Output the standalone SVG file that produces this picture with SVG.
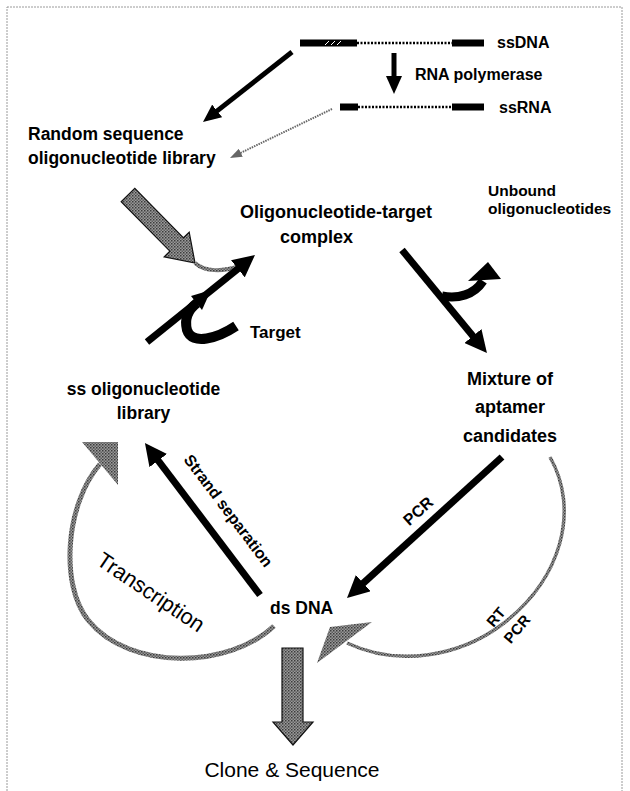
<svg xmlns="http://www.w3.org/2000/svg" width="630" height="791" viewBox="0 0 630 791">
<style>
.b{font-family:"Liberation Sans",Arial,sans-serif;font-weight:bold;fill:#000}
.r{font-family:"Liberation Sans",Arial,sans-serif;fill:#000}
.blk{stroke:#000;fill:none;stroke-linecap:butt}
.gry{stroke:url(#stip);fill:none}
</style>
<defs>
<pattern id="stip" patternUnits="userSpaceOnUse" width="3" height="3">
<rect width="3" height="3" fill="#9a9a9a"/>
<rect width="1.5" height="1.5" fill="#3c3c3c"/>
<rect x="1.5" y="1.5" width="1.5" height="1.5" fill="#5e5e5e"/>
</pattern>
<marker id="ahL" markerUnits="userSpaceOnUse" markerWidth="22" markerHeight="22" viewBox="0 0 22 22" refX="7" refY="11" orient="auto">
<path d="M0,0 L22,11 L0,22 Z" fill="#000"/>
</marker>
<marker id="ahS" markerUnits="userSpaceOnUse" markerWidth="18" markerHeight="16" viewBox="0 0 18 16" refX="6" refY="8" orient="auto">
<path d="M0,0 L18,8 L0,16 Z" fill="#000"/>
</marker>
<marker id="ahG" markerUnits="userSpaceOnUse" markerWidth="12" markerHeight="9" viewBox="0 0 12 9" refX="3" refY="4.5" orient="auto">
<path d="M0,0 L12,4.5 L0,9 Z" fill="#666"/>
</marker>
</defs>
<rect width="630" height="791" fill="#fff"/>
<rect x="7" y="7" width="615" height="800" fill="none" stroke="#9a9a9a" stroke-width="1" stroke-dasharray="2 1"/>

<g id="connectors">
<line class="blk" x1="292" y1="52" x2="212.4" y2="114.6" stroke-width="5" marker-end="url(#ahS)"/>
<line class="blk" x1="394" y1="53" x2="394" y2="82" stroke-width="5" marker-end="url(#ahS)"/>
<line x1="332" y1="109" x2="238.1" y2="154.1" stroke="#666" stroke-width="2" stroke-dasharray="1.5 1" marker-end="url(#ahG)"/>
<polygon points="121.2,201.7 134.8,188.3 183.5,237.8 189.2,232.2 195,263 164.2,256.8 169.9,251.2" fill="url(#stip)" stroke="#111" stroke-width="1.2"/>
<path class="gry" d="M195,263 C205,272 222,272 240,266" stroke-width="4"/>
<line class="blk" x1="147" y1="342" x2="243.3" y2="264.4" stroke-width="7" marker-end="url(#ahL)"/>
<path class="blk" d="M236,326 C218,338 192,346 187,330 C184,318 189,309 197,303" stroke-width="10"/>
<polygon points="202,310 191,296 211,290" fill="#000"/>
<line class="blk" x1="402" y1="250" x2="477.4" y2="341.4" stroke-width="7" marker-end="url(#ahL)"/>
<path class="blk" d="M442,296 C458,299 474,295 483,281" stroke-width="9"/>
<polygon points="468,281 501,279 488,262" fill="#000"/>
<line class="blk" x1="502" y1="457" x2="358.1" y2="587.9" stroke-width="7" marker-end="url(#ahL)"/>
<line class="blk" x1="260" y1="595" x2="154" y2="455" stroke-width="7" marker-end="url(#ahL)"/>
<path class="gry" d="M550,457 C580,510 562,580 500,626 C460,655 400,668 347,643" stroke-width="3.5"/>
<polygon points="317,663 330,627 372,622" fill="url(#stip)"/>
<path class="gry" d="M274,626 C230,668 130,672 88,620 C60,585 65,505 100,464" stroke-width="5"/>
<polygon points="82,442 118,442 118,485" fill="url(#stip)"/>
<polygon points="282,648 303,648 303,722 313,722 293,745 273,722 282,722" fill="url(#stip)" stroke="#111" stroke-width="1.2"/>
</g>

<g id="n-ssdna">
<rect x="300" y="39.5" width="57" height="7" fill="#000"/>
<path d="M325,45 l4,-4 M331,45 l4,-4 M337,45 l4,-4" stroke="#fff" stroke-width="1"/>
<line x1="357" y1="43" x2="452" y2="43" stroke="#000" stroke-width="2.5" stroke-dasharray="2 1.5"/>
<rect x="452" y="39.5" width="32" height="7" fill="#000"/>
<text class="b" x="497" y="48" font-size="16">ssDNA</text>
</g>
<g id="n-rnapol">
<text class="b" x="415" y="80" font-size="16">RNA polymerase</text>
</g>
<g id="n-ssrna">
<rect x="340" y="103.5" width="18" height="7" fill="#000"/>
<line x1="358" y1="107" x2="452" y2="107" stroke="#000" stroke-width="2.5" stroke-dasharray="2 1.5"/>
<rect x="452" y="103.5" width="32" height="7" fill="#000"/>
<text class="b" x="499" y="113" font-size="16">ssRNA</text>
</g>
<g id="n-random">
<text class="b" x="28" y="140" font-size="17.5">Random sequence</text>
<text class="b" x="28" y="164" font-size="17.5">oligonucleotide library</text>
</g>
<g id="n-complex">
<text class="b" x="240" y="218" font-size="18">Oligonucleotide-target</text>
<text class="b" x="280" y="243" font-size="18">complex</text>
</g>
<g id="n-unbound">
<text class="b" x="488" y="196" font-size="15.5">Unbound</text>
<text class="b" x="488" y="214" font-size="15.5">oligonucleotides</text>
</g>
<g id="n-target">
<text class="b" x="250" y="338" font-size="17">Target</text>
</g>
<g id="n-sslib">
<text class="b" x="143.5" y="395" font-size="17.5" text-anchor="middle">ss oligonucleotide</text>
<text class="b" x="143.5" y="419" font-size="17.5" text-anchor="middle">library</text>
</g>
<g id="n-mixture">
<text class="b" x="510" y="385" font-size="18" text-anchor="middle">Mixture of</text>
<text class="b" x="510" y="413" font-size="18" text-anchor="middle">aptamer</text>
<text class="b" x="510" y="442" font-size="18" text-anchor="middle">candidates</text>
</g>
<g id="n-dsdna">
<text class="b" x="270" y="614" font-size="17.5">ds DNA</text>
</g>
<g id="n-clone">
<text class="r" x="292" y="777" font-size="21" text-anchor="middle">Clone &amp; Sequence</text>
</g>
<g id="labels">
<text class="b" font-size="16" text-anchor="middle" transform="translate(224,514) rotate(53)">Strand separation</text>
<text class="b" font-size="16" text-anchor="middle" dy="0.35em" transform="translate(418,511) rotate(-42)">PCR</text>
<text class="b" font-size="15" text-anchor="middle" dy="0.35em" transform="translate(496,617) rotate(-50)">RT</text>
<text class="b" font-size="15" text-anchor="middle" dy="0.35em" transform="translate(517,629) rotate(-50)">PCR</text>
<text class="r" font-size="22" text-anchor="middle" dy="0.35em" textLength="124" lengthAdjust="spacingAndGlyphs" transform="translate(151,592) rotate(34)">Transcription</text>
</g>
</svg>
